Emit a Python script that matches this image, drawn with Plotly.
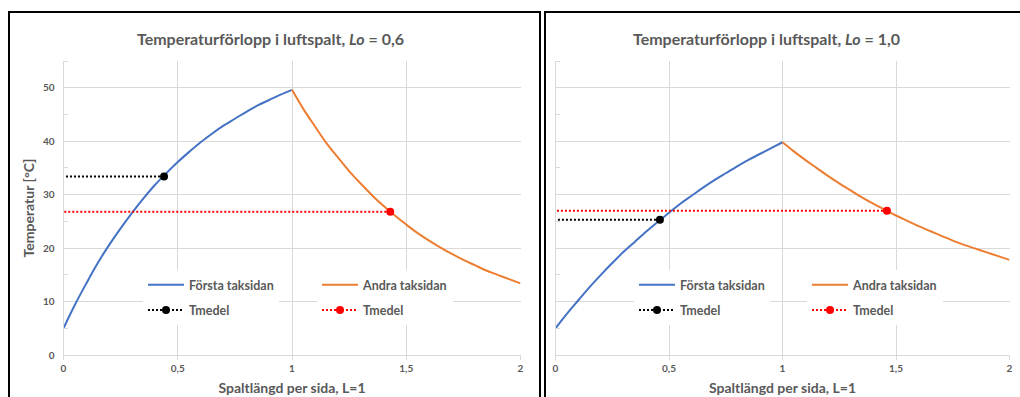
import plotly.graph_objects as go

# ---------------- data ----------------
x_forsta = [0.0, 0.05, 0.1, 0.15, 0.2, 0.25, 0.3, 0.35, 0.4, 0.45, 0.5,
            0.55, 0.6, 0.65, 0.7, 0.75, 0.8, 0.85, 0.9, 0.95, 1.0]
x_andra = [1.0, 1.05, 1.1, 1.15, 1.2, 1.25, 1.3, 1.35, 1.4, 1.45, 1.5,
           1.55, 1.6, 1.65, 1.7, 1.75, 1.8, 1.85, 1.9, 1.95, 2.0]

# Lo = 0,6
t_forsta_06 = [5.0, 9.4, 13.4, 17.2, 20.6, 23.7, 26.6, 29.3, 31.8, 34.0, 36.1,
               38.0, 39.8, 41.4, 42.9, 44.2, 45.5, 46.7, 47.7, 48.7, 49.6]
t_andra_06 = [49.6, 46.0, 42.8, 39.7, 37.0, 34.4, 32.1, 29.9, 27.9, 26.1, 24.4,
              22.8, 21.4, 20.1, 18.9, 17.8, 16.8, 15.8, 15.0, 14.2, 13.4]
tmedel_x_06 = [0.44, 1.43]     # position of the mean-value dots (first side, second side)
tmedel_t_06 = [33.4, 26.8]

# Lo = 1,0
t_forsta_10 = [5.0, 7.7, 10.2, 12.7, 15.0, 17.2, 19.3, 21.2, 23.1, 24.9, 26.6,
               28.3, 29.8, 31.3, 32.7, 34.0, 35.3, 36.5, 37.6, 38.7, 39.8]
t_andra_10 = [39.8, 38.1, 36.5, 35.0, 33.5, 32.1, 30.8, 29.5, 28.3, 27.2, 26.1,
              25.1, 24.1, 23.2, 22.3, 21.4, 20.6, 19.9, 19.2, 18.5, 17.8]
tmedel_x_10 = [0.46, 1.46]
tmedel_t_10 = [25.3, 27.0]

x_start = 0.0  # dotted mean lines start at the y-axis

titles = ["Temperaturförlopp i luftspalt, <i>Lo</i> = 0,6",
          "Temperaturförlopp i luftspalt, <i>Lo</i> = 1,0"]
x_title = "Spaltlängd per sida, L=1"
y_title = "Temperatur [°C]"
names = ["Första taksidan", "Andra taksidan", "Tmedel", "Tmedel"]

# ---------------- style ----------------
W, H = 1020, 397
FONT = "Lato"
GRAY = "#595959"
GRID = "#d9d9d9"
BLUE = "#4472C4"
ORANGE = "#ED7D31"
DOT = "2px,2px"

def px(x):
    return x / W

def py(y):
    return 1 - y / H

fig = go.Figure()

panels = [
    dict(xa="x", ya="y", t1=t_forsta_06, t2=t_andra_06, mx=tmedel_x_06, mt=tmedel_t_06,
         legs=("legend", "legend2")),
    dict(xa="x2", ya="y2", t1=t_forsta_10, t2=t_andra_10, mx=tmedel_x_10, mt=tmedel_t_10,
         legs=("legend3", "legend4")),
]

for i, p in enumerate(panels):
    fig.add_trace(go.Scatter(x=x_forsta, y=p["t1"], mode="lines", name=names[0],
                             line=dict(color=BLUE, width=2, shape="spline"),
                             xaxis=p["xa"], yaxis=p["ya"], legend=p["legs"][0],
                             legendgroup=f"a{i}", legendrank=1))
    fig.add_trace(go.Scatter(x=x_andra, y=p["t2"], mode="lines", name=names[1],
                             line=dict(color=ORANGE, width=2, shape="spline"),
                             xaxis=p["xa"], yaxis=p["ya"], legend=p["legs"][1],
                             legendgroup=f"b{i}", legendrank=1))
    # mean value lines: dot first so the legend picks the visible marker colour
    fig.add_trace(go.Scatter(x=[p["mx"][0], x_start], y=[p["mt"][0], p["mt"][0]],
                             mode="lines+markers", name=names[2],
                             line=dict(color="black", width=2, dash=DOT),
                             marker=dict(size=8, color=["black", "rgba(0,0,0,0)"]),
                             xaxis=p["xa"], yaxis=p["ya"], legend=p["legs"][0],
                             legendgroup=f"c{i}", legendrank=2))
    fig.add_trace(go.Scatter(x=[p["mx"][1], x_start], y=[p["mt"][1], p["mt"][1]],
                             mode="lines+markers", name=names[3],
                             line=dict(color="red", width=2, dash=DOT),
                             marker=dict(size=8, color=["red", "rgba(0,0,0,0)"]),
                             xaxis=p["xa"], yaxis=p["ya"], legend=p["legs"][1],
                             legendgroup=f"d{i}", legendrank=2))

tickfont = dict(family=FONT, size=10, color=GRAY, weight="bold")
titlefont = dict(family=FONT, size=14, color=GRAY, weight="bold")

def xaxis(domain, anchor):
    return dict(domain=domain, anchor=anchor, range=[0, 2], dtick=0.5, tick0=0,
                showgrid=True, gridcolor=GRID, gridwidth=1,
                showline=True, linecolor=GRID, linewidth=1,
                ticks="outside", ticklen=4, tickcolor=GRID,
                tickfont=tickfont, zeroline=False, fixedrange=True, automargin=False,
                title=dict(text=x_title, font=titlefont, standoff=10))

def yaxis(domain, anchor, labels):
    d = dict(domain=domain, anchor=anchor, range=[0, 55], dtick=10, tick0=0,
             showgrid=True, gridcolor=GRID, gridwidth=1,
             showline=True, linecolor=GRID, linewidth=1,
             ticks="", showticklabels=labels, tickfont=tickfont,
             ticklabelstandoff=6,
             minor=dict(dtick=5, tick0=5, ticks="inside", ticklen=4, tickcolor=GRID,
                        showgrid=False),
             zeroline=False, fixedrange=True, automargin=False)
    if labels:
        d["title"] = dict(text=y_title, font=titlefont, standoff=4)
    return d

ydom = [py(355), py(61)]
fig.update_layout(
    width=W, height=H,
    margin=dict(l=0, r=0, t=0, b=0, autoexpand=False),
    paper_bgcolor="white", plot_bgcolor="white",
    separators=", ",
    font=dict(family=FONT, color=GRAY),
    xaxis=xaxis([px(63.5), px(520.5)], "y"),
    yaxis=yaxis(ydom, "x", True),
    xaxis2=xaxis([px(555.5), px(1009.5)], "y2"),
    yaxis2=yaxis(ydom, "x2", False),
)

legfont = dict(family=FONT, size=12.5, color=GRAY, weight="bold")
for name, xl in [("legend", 143), ("legend2", 317), ("legend3", 634), ("legend4", 807)]:
    fig.update_layout({name: dict(x=px(xl), y=py(270), xanchor="left", yanchor="top",
                                  xref="paper", yref="paper",
                                  orientation="v", bgcolor="white", borderwidth=0,
                                  font=legfont, tracegroupgap=6, itemwidth=36,
                                  itemclick=False, itemdoubleclick=False)})

# white legend area (hides gridlines behind the legend, as in the reference)
for x0, x1 in [(122, 461), (613, 955)]:
    fig.add_shape(type="rect", xref="paper", yref="paper",
                  x0=px(x0), x1=px(x1), y0=py(321), y1=py(273),
                  line=dict(width=0), fillcolor="white", layer="between")

# chart titles
for cx, txt in [(270, titles[0]), (766, titles[1])]:
    fig.add_annotation(x=px(cx), y=py(38), xref="paper", yref="paper",
                       text=txt, showarrow=False, xanchor="center", yanchor="middle",
                       font=dict(family=FONT, size=16, color=GRAY, weight="bold"))

# chart-area frames
fig.add_shape(type="rect", xref="paper", yref="paper",
              x0=px(9), x1=px(540), y0=-0.2, y1=py(12),
              line=dict(color="black", width=2), fillcolor="rgba(0,0,0,0)")
fig.add_shape(type="rect", xref="paper", yref="paper",
              x0=px(545), x1=1.2, y0=-0.2, y1=py(12),
              line=dict(color="black", width=2), fillcolor="rgba(0,0,0,0)")

fig.write_html("out.html", config={"displayModeBar": False},
               post_script="document.body.style.margin='0';document.body.style.overflow='hidden';")
